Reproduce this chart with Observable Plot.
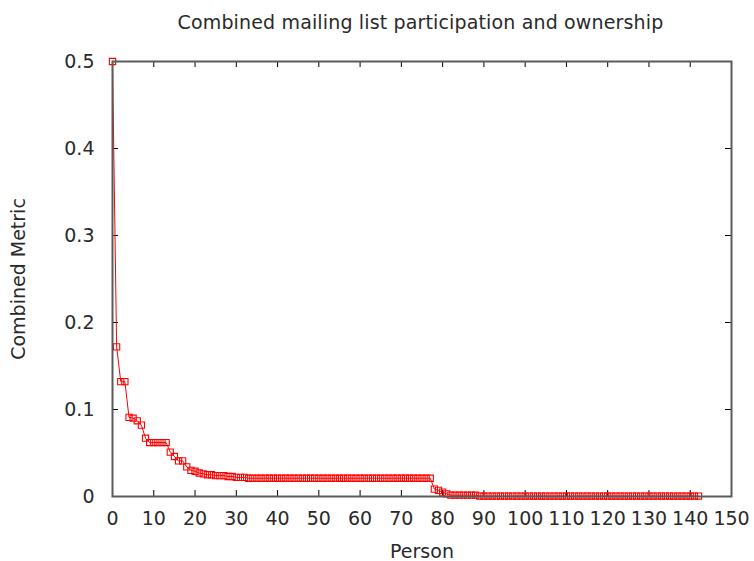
<!DOCTYPE html>
<html>
<head>
<meta charset="utf-8">
<script src="https://cdn.jsdelivr.net/npm/d3@7"></script>
<script src="https://cdn.jsdelivr.net/npm/@observablehq/plot@0.6"></script>
<style>
  html, body { margin: 0; padding: 0; background: #fff; }
  #title { height: 40px; width: 841px; box-sizing: border-box; padding-top: 13px;
           font: 19px "DejaVu Sans", sans-serif; line-height: 19px; letter-spacing: 0.15px; color: #2a2a2a; text-align: center; white-space: nowrap; }
</style>
</head>
<body>
<div id="title">Combined mailing list participation and ownership</div>
<div id="chart"></div>
<script>
const titleText = "Combined mailing list participation and ownership";
const xLabel = "Person";
const yLabel = "Combined Metric";
const xTicks = [0, 10, 20, 30, 40, 50, 60, 70, 80, 90, 100, 110, 120, 130, 140, 150];
const xTickLabels = ["0", "10", "20", "30", "40", "50", "60", "70", "80", "90", "100", "110", "120", "130", "140", "150"];
const yTicks = [0, 0.1, 0.2, 0.3, 0.4, 0.5];
const yTickLabels = ["0", "0.1", "0.2", "0.3", "0.4", "0.5"];

// Combined metric for each person (person index = position in the list)
const metric = [
  0.5, 0.172, 0.132, 0.132, 0.091, 0.090, 0.087, 0.082, 0.067, 0.062,
  0.062, 0.062, 0.062, 0.062, 0.051, 0.046, 0.041, 0.041, 0.034, 0.030,
  0.029, 0.027, 0.026, 0.025, 0.025, 0.024, 0.024, 0.024, 0.023, 0.023,
  0.022, 0.022, 0.022, 0.021, 0.021, 0.021, 0.021, 0.021, 0.021, 0.021,
  0.021, 0.021, 0.021, 0.021, 0.021, 0.021, 0.021, 0.021, 0.021, 0.021,
  0.021, 0.021, 0.021, 0.021, 0.021, 0.021, 0.021, 0.021, 0.021, 0.021,
  0.021, 0.021, 0.021, 0.021, 0.021, 0.021, 0.021, 0.021, 0.021, 0.021,
  0.021, 0.021, 0.021, 0.021, 0.021, 0.021, 0.021, 0.021, 0.0085, 0.007,
  0.005, 0.003, 0.0015, 0.0015, 0.0015, 0.0015, 0.0015, 0.0015, 0.0015, 0.0005,
  0.0005, 0.0005, 0.0005, 0.0005, 0.0005, 0.0005, 0.0005, 0.0005, 0.0005, 0.0005,
  0.0005, 0.0005, 0.0005, 0.0005, 0.0005, 0.0005, 0.0005, 0.0005, 0.0005, 0.0005,
  0.0005, 0.0005, 0.0005, 0.0005, 0.0005, 0.0005, 0.0005, 0.0005, 0.0005, 0.0005,
  0.0005, 0.0005, 0.0005, 0.0005, 0.0005, 0.0005, 0.0005, 0.0005, 0.0005, 0.0005,
  0.0005, 0.0005, 0.0005, 0.0005, 0.0005, 0.0005, 0.0005, 0.0005, 0.0005, 0.0005,
  0.0005, 0.0005, 0.0005
];
const data = metric.map((v, i) => ({person: i, value: v}));

document.getElementById("title").textContent = titleText;

const W = 754, H = 521, mL = 112, mR = 23, mT = 21, mB = 65;
const fw = W - mL - mR, fh = H - mT - mB, tick = 6;
const textColor = "#2a2a2a";

const chart = Plot.plot({
  width: W, height: H,
  marginLeft: mL, marginRight: mR, marginTop: mT, marginBottom: mB,
  style: {fontFamily: "DejaVu Sans, sans-serif", fontSize: "19px", color: textColor, background: "#fff"},
  x: {domain: [0, 150]},
  y: {domain: [0, 0.5]},
  marks: [
    Plot.axisX(xTicks, {tickSize: 0, tickPadding: 15, tickFormat: d => xTickLabels[xTicks.indexOf(d)], label: null, fill: textColor}),
    Plot.axisY(yTicks, {tickSize: 0, tickPadding: 18, tickFormat: d => yTickLabels[yTicks.indexOf(d)], label: null, fill: textColor}),
    Plot.ruleX(xTicks, {x: d => d, insetTop: fh - tick, stroke: "#000"}),
    Plot.ruleX(xTicks, {x: d => d, insetBottom: fh - tick, stroke: "#000"}),
    Plot.ruleY(yTicks, {y: d => d, insetRight: fw - tick, stroke: "#000"}),
    Plot.ruleY(yTicks, {y: d => d, insetLeft: fw - tick, stroke: "#000"}),
    Plot.line(data, {x: "person", y: "value", stroke: "#ff0000", strokeWidth: 1}),
    Plot.dot(data, {x: "person", y: "value", symbol: "square", r: 3.5, stroke: "#ff0000", fill: "none", strokeWidth: 1.1}),
    Plot.frame({stroke: "#5a5a5a", strokeWidth: 2}),
    Plot.text([xLabel], {text: d => d, frameAnchor: "bottom", dy: 55, fill: textColor, fontSize: 19, lineAnchor: "middle"}),
    Plot.text([yLabel], {text: d => d, frameAnchor: "left", textAnchor: "middle", lineAnchor: "middle", rotate: -90, dx: -94, fill: textColor, fontSize: 19})
  ]
});
document.getElementById("chart").appendChild(chart);
</script>
</body>
</html>
